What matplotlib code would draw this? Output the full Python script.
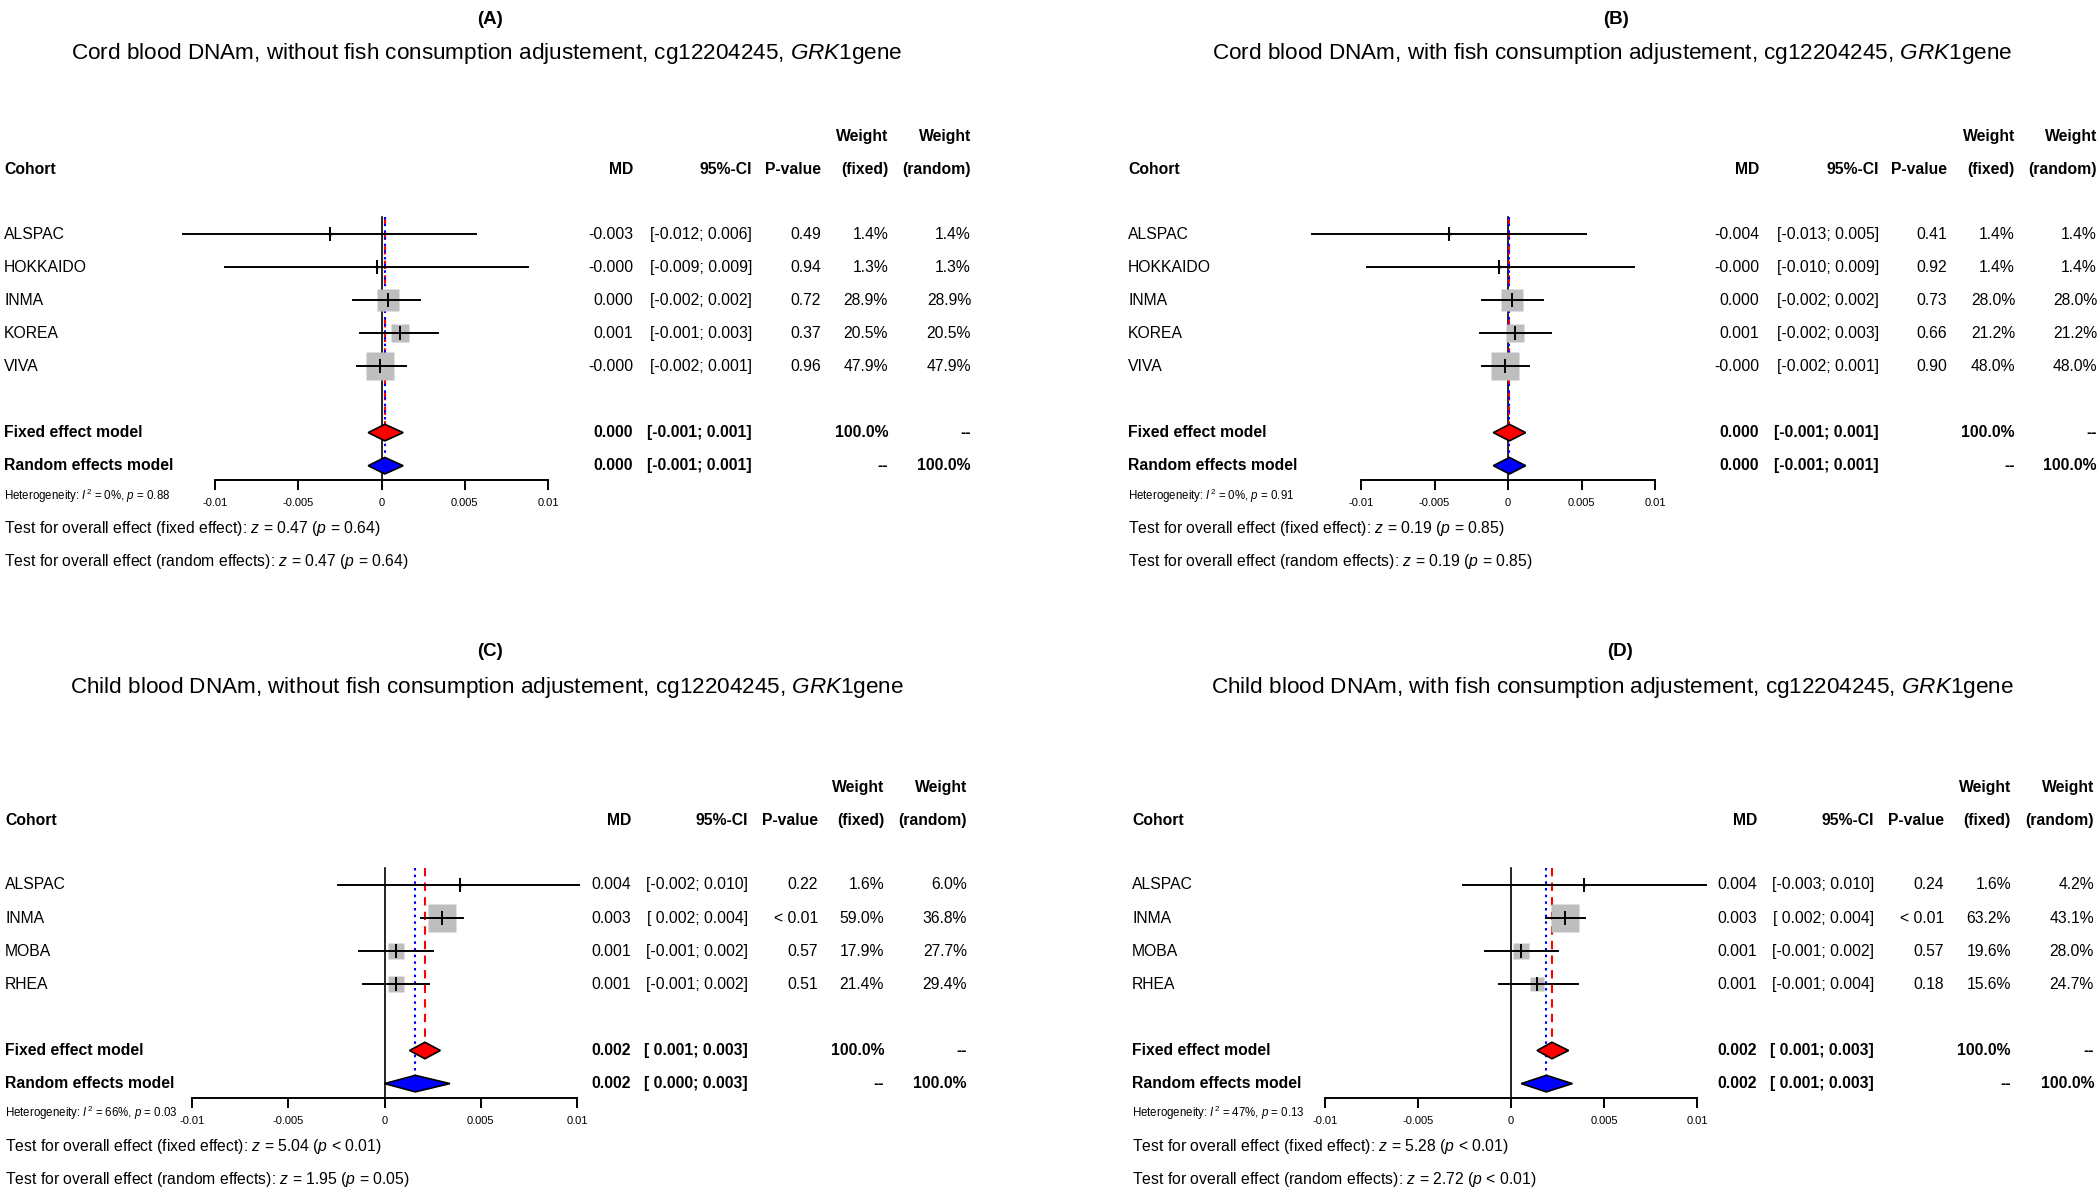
import numpy as np
import matplotlib
matplotlib.use('agg')
import matplotlib.pyplot as plt
import matplotlib.transforms as mtransforms

plt.rcParams['font.family'] = ['Liberation Sans', 'DejaVu Sans']
plt.rcParams['mathtext.fontset'] = 'custom'
plt.rcParams['mathtext.rm'] = 'Liberation Sans'
plt.rcParams['mathtext.it'] = 'Liberation Sans:italic'
plt.rcParams['mathtext.bf'] = 'Liberation Sans:bold'

# ---- data ----
cohorts_cord = ["ALSPAC", "HOKKAIDO", "INMA", "KOREA", "VIVA"]
cohorts_child = ["ALSPAC", "INMA", "MOBA", "RHEA"]

# (A) cord blood, without fish adjustment
a_md = [-0.0031, -0.0003, 0.0004, 0.0011, -0.0001]
a_lo = [-0.0119, -0.0094, -0.0017, -0.0013, -0.0015]
a_hi = [0.0057, 0.0088, 0.0023, 0.0034, 0.0015]
a_md_txt = ["-0.003", "-0.000", "0.000", "0.001", "-0.000"]
a_ci_txt = ["[-0.012; 0.006]", "[-0.009; 0.009]", "[-0.002; 0.002]", "[-0.001; 0.003]", "[-0.002; 0.001]"]
a_pval = ["0.49", "0.94", "0.72", "0.37", "0.96"]
a_w_fixed = [1.4, 1.3, 28.9, 20.5, 47.9]
a_w_random = [1.4, 1.3, 28.9, 20.5, 47.9]
a_fixed = [0.0002, -0.0008, 0.0013]
a_random = [0.0002, -0.0008, 0.0013]
a_pooled_txt = [("0.000", "[-0.001; 0.001]"), ("0.000", "[-0.001; 0.001]")]
a_het = ("0%", "= 0.88")
a_tests = [("0.47", "= 0.64"), ("0.47", "= 0.64")]

# (B) cord blood, with fish adjustment
b_md = [-0.0040, -0.0006, 0.0003, 0.0005, -0.0002]
b_lo = [-0.0133, -0.0096, -0.0018, -0.0019, -0.0018]
b_hi = [0.0053, 0.0086, 0.0024, 0.0029, 0.0014]
b_md_txt = ["-0.004", "-0.000", "0.000", "0.001", "-0.000"]
b_ci_txt = ["[-0.013; 0.005]", "[-0.010; 0.009]", "[-0.002; 0.002]", "[-0.002; 0.003]", "[-0.002; 0.001]"]
b_pval = ["0.41", "0.92", "0.73", "0.66", "0.90"]
b_w_fixed = [1.4, 1.4, 28.0, 21.2, 48.0]
b_w_random = [1.4, 1.4, 28.0, 21.2, 48.0]
b_fixed = [0.0001, -0.0010, 0.0012]
b_random = [0.0001, -0.0010, 0.0012]
b_pooled_txt = [("0.000", "[-0.001; 0.001]"), ("0.000", "[-0.001; 0.001]")]
b_het = ("0%", "= 0.91")
b_tests = [("0.19", "= 0.85"), ("0.19", "= 0.85")]

# (C) child blood, without fish adjustment
c_md = [0.0039, 0.0030, 0.0006, 0.0006]
c_lo = [-0.0024, 0.0019, -0.0013, -0.0011]
c_hi = [0.0101, 0.0041, 0.0025, 0.0023]
c_md_txt = ["0.004", "0.003", "0.001", "0.001"]
c_ci_txt = ["[-0.002; 0.010]", "[ 0.002; 0.004]", "[-0.001; 0.002]", "[-0.001; 0.002]"]
c_pval = ["0.22", "< 0.01", "0.57", "0.51"]
c_w_fixed = [1.6, 59.0, 17.9, 21.4]
c_w_random = [6.0, 36.8, 27.7, 29.4]
c_fixed = [0.0021, 0.0013, 0.0029]
c_random = [0.0016, 0.0000, 0.0034]
c_pooled_txt = [("0.002", "[ 0.001; 0.003]"), ("0.002", "[ 0.000; 0.003]")]
c_het = ("66%", "= 0.03")
c_tests = [("5.04", "< 0.01"), ("1.95", "= 0.05")]

# (D) child blood, with fish adjustment
d_md = [0.0039, 0.0029, 0.00055, 0.0014]
d_lo = [-0.0026, 0.0019, -0.0014, -0.00065]
d_hi = [0.0105, 0.0040, 0.0025, 0.0036]
d_md_txt = ["0.004", "0.003", "0.001", "0.001"]
d_ci_txt = ["[-0.003; 0.010]", "[ 0.002; 0.004]", "[-0.001; 0.002]", "[-0.001; 0.004]"]
d_pval = ["0.24", "< 0.01", "0.57", "0.18"]
d_w_fixed = [1.6, 63.2, 19.6, 15.6]
d_w_random = [4.2, 43.1, 28.0, 24.7]
d_fixed = [0.0022, 0.0014, 0.0031]
d_random = [0.0019, 0.00055, 0.0033]
d_pooled_txt = [("0.002", "[ 0.001; 0.003]"), ("0.002", "[ 0.001; 0.003]")]
d_het = ("47%", "= 0.13")
d_tests = [("5.28", "< 0.01"), ("2.72", "< 0.01")]

ticks = [-0.01, -0.005, 0, 0.005, 0.01]
tick_labels = ["-0.01", "-0.005", "0", "0.005", "0.01"]

W, H = 2100, 1192
RS = 33.1  # row height in px
FS = 11.3  # table font size
fig = plt.figure(figsize=(21, 11.92), dpi=100)


def fx(px):
    return px / W


def fy(py):
    return 1 - py / H


def forest(letter, subtitle, cohorts, md, lo, hi, md_txt, ci_txt, pval, wf, wr,
           fixed, random, pooled_txt, het, tests,
           left, x0, x1, row0, cols, title_x, title_y):
    top_r, bot_r = -4.0, 11.0
    ax = fig.add_axes([fx(x0), fy(row0 + bot_r * RS), fx(x1) - fx(x0),
                       (bot_r - top_r) * RS / H])
    ax.set_xlim(-0.01, 0.01)
    ax.set_ylim(bot_r, top_r)
    ax.patch.set_visible(False)
    for s in ['top', 'left', 'right']:
        ax.spines[s].set_visible(False)
    n = len(cohorts)
    r_fix, r_ran = n + 1, n + 2
    y_axis = n + 2.44
    ax.spines['bottom'].set_position(('data', y_axis))
    ax.spines['bottom'].set_linewidth(1.4)
    ax.yaxis.set_visible(False)
    ax.set_xticks(ticks)
    ax.set_xticklabels(tick_labels, fontsize=8)
    ax.tick_params(axis='x', direction='out', length=7, width=1.4, pad=6)

    rows = np.arange(n)
    # reference lines
    ax.plot([0, 0], [-0.5, y_axis], color='black', lw=1.2, zorder=1)
    ax.plot([fixed[0]] * 2, [-0.5, r_fix - 0.25], color='red', lw=1.5,
            ls=(0, (4, 3)), zorder=2)
    ax.plot([random[0]] * 2, [-0.5, r_ran - 0.25], color='blue', lw=1.5,
            ls=(0, (1.2, 2)), zorder=2)

    # study squares and CIs
    wmax = max(wf)
    for i in range(n):
        ax.plot(md[i], rows[i], 's', ms=20.2 * np.sqrt(wf[i] / wmax),
                color='#BEBEBE', mec='none', zorder=3, clip_on=False)
        ax.plot([lo[i], hi[i]], [rows[i]] * 2, color='black', lw=1.4,
                zorder=4, clip_on=False)
        ax.plot(md[i], rows[i], marker='|', ms=10, mew=1.4, color='black',
                zorder=5, clip_on=False)

    # pooled diamonds
    for (est, l, h), r, col in [(fixed, r_fix, 'red'), (random, r_ran, 'blue')]:
        ax.fill([l, est, h, est], [r, r - 0.25, r, r + 0.25], facecolor=col,
                edgecolor='black', lw=1.2, zorder=6, clip_on=False)

    tr = mtransforms.blended_transform_factory(fig.transFigure, ax.transData)
    md_x, ci_x, p_x, wf_x, wr_x = [fx(c) for c in cols]

    # headers
    hb = dict(transform=tr, fontsize=FS, fontweight='bold', va='center')
    ax.text(wf_x, -2.95, "Weight", ha='right', **hb)
    ax.text(wr_x, -2.95, "Weight", ha='right', **hb)
    ax.text(fx(left), -1.95, "Cohort", ha='left', **hb)
    ax.text(md_x, -1.95, "MD", ha='right', **hb)
    ax.text(ci_x, -1.95, "95%-CI", ha='right', **hb)
    ax.text(p_x, -1.95, "P-value", ha='right', **hb)
    ax.text(wf_x, -1.95, "(fixed)", ha='right', **hb)
    ax.text(wr_x, -1.95, "(random)", ha='right', **hb)

    tn = dict(transform=tr, fontsize=FS, va='center')
    for i in range(n):
        ax.text(fx(left), rows[i], cohorts[i], ha='left', **tn)
        ax.text(md_x, rows[i], md_txt[i], ha='right', **tn)
        ax.text(ci_x, rows[i], ci_txt[i], ha='right', **tn)
        ax.text(p_x, rows[i], pval[i], ha='right', **tn)
        ax.text(wf_x, rows[i], "{:.1f}%".format(wf[i]), ha='right', **tn)
        ax.text(wr_x, rows[i], "{:.1f}%".format(wr[i]), ha='right', **tn)

    for r, name, (m_t, c_t), wft, wrt in [
            (r_fix, "Fixed effect model", pooled_txt[0], "100.0%", "--"),
            (r_ran, "Random effects model", pooled_txt[1], "--", "100.0%")]:
        ax.text(fx(left), r, name, ha='left', **hb)
        ax.text(md_x, r, m_t, ha='right', **hb)
        ax.text(ci_x, r, c_t, ha='right', **hb)
        ax.text(wf_x, r, wft, ha='right', **hb)
        ax.text(wr_x, r, wrt, ha='right', **hb)

    ax.text(fx(left), n + 2.9,
            "Heterogeneity: $I^2$ = {}, $p$ {}".format(het[0], het[1]),
            ha='left', transform=tr, fontsize=8.3, va='center')
    ax.text(fx(left), n + 3.9,
            "Test for overall effect (fixed effect): $z$ = {} ($p$ {})".format(*tests[0]),
            ha='left', **tn)
    ax.text(fx(left), n + 4.9,
            "Test for overall effect (random effects): $z$ = {} ($p$ {})".format(*tests[1]),
            ha='left', **tn)

    fig.text(fx(title_x[0]), fy(title_y[0]), letter, ha='center', va='center',
             fontsize=13.5, fontweight='bold')
    fig.text(fx(title_x[1]), fy(title_y[1]),
             subtitle + r", cg12204245, $\mathit{GRK1}$gene",
             ha='center', va='center', fontsize=16.2)


forest("(A)", "Cord blood DNAm, without fish consumption adjustement",
       cohorts_cord, a_md, a_lo, a_hi, a_md_txt, a_ci_txt, a_pval, a_w_fixed, a_w_random,
       a_fixed, a_random, a_pooled_txt, a_het, a_tests,
       left=4, x0=215, x1=548, row0=234, cols=(633, 752, 821, 888, 971),
       title_x=(490, 487), title_y=(20, 54))

forest("(B)", "Cord blood DNAm, with fish consumption adjustement",
       cohorts_cord, b_md, b_lo, b_hi, b_md_txt, b_ci_txt, b_pval, b_w_fixed, b_w_random,
       b_fixed, b_random, b_pooled_txt, b_het, b_tests,
       left=1128, x0=1361, x1=1655, row0=234, cols=(1759, 1879, 1947, 2015, 2097),
       title_x=(1616, 1612), title_y=(20, 54))

forest("(C)", "Child blood DNAm, without fish consumption adjustement",
       cohorts_child, c_md, c_lo, c_hi, c_md_txt, c_ci_txt, c_pval, c_w_fixed, c_w_random,
       c_fixed, c_random, c_pooled_txt, c_het, c_tests,
       left=5, x0=192, x1=577, row0=885, cols=(631, 748, 818, 884, 967),
       title_x=(490, 487), title_y=(651, 687))

forest("(D)", "Child blood DNAm, with fish consumption adjustement",
       cohorts_child, d_md, d_lo, d_hi, d_md_txt, d_ci_txt, d_pval, d_w_fixed, d_w_random,
       d_fixed, d_random, d_pooled_txt, d_het, d_tests,
       left=1132, x0=1325, x1=1697, row0=885, cols=(1757, 1874, 1944, 2011, 2094),
       title_x=(1620, 1612), title_y=(651, 687))

fig.savefig("out.png", dpi=100, facecolor='white')
